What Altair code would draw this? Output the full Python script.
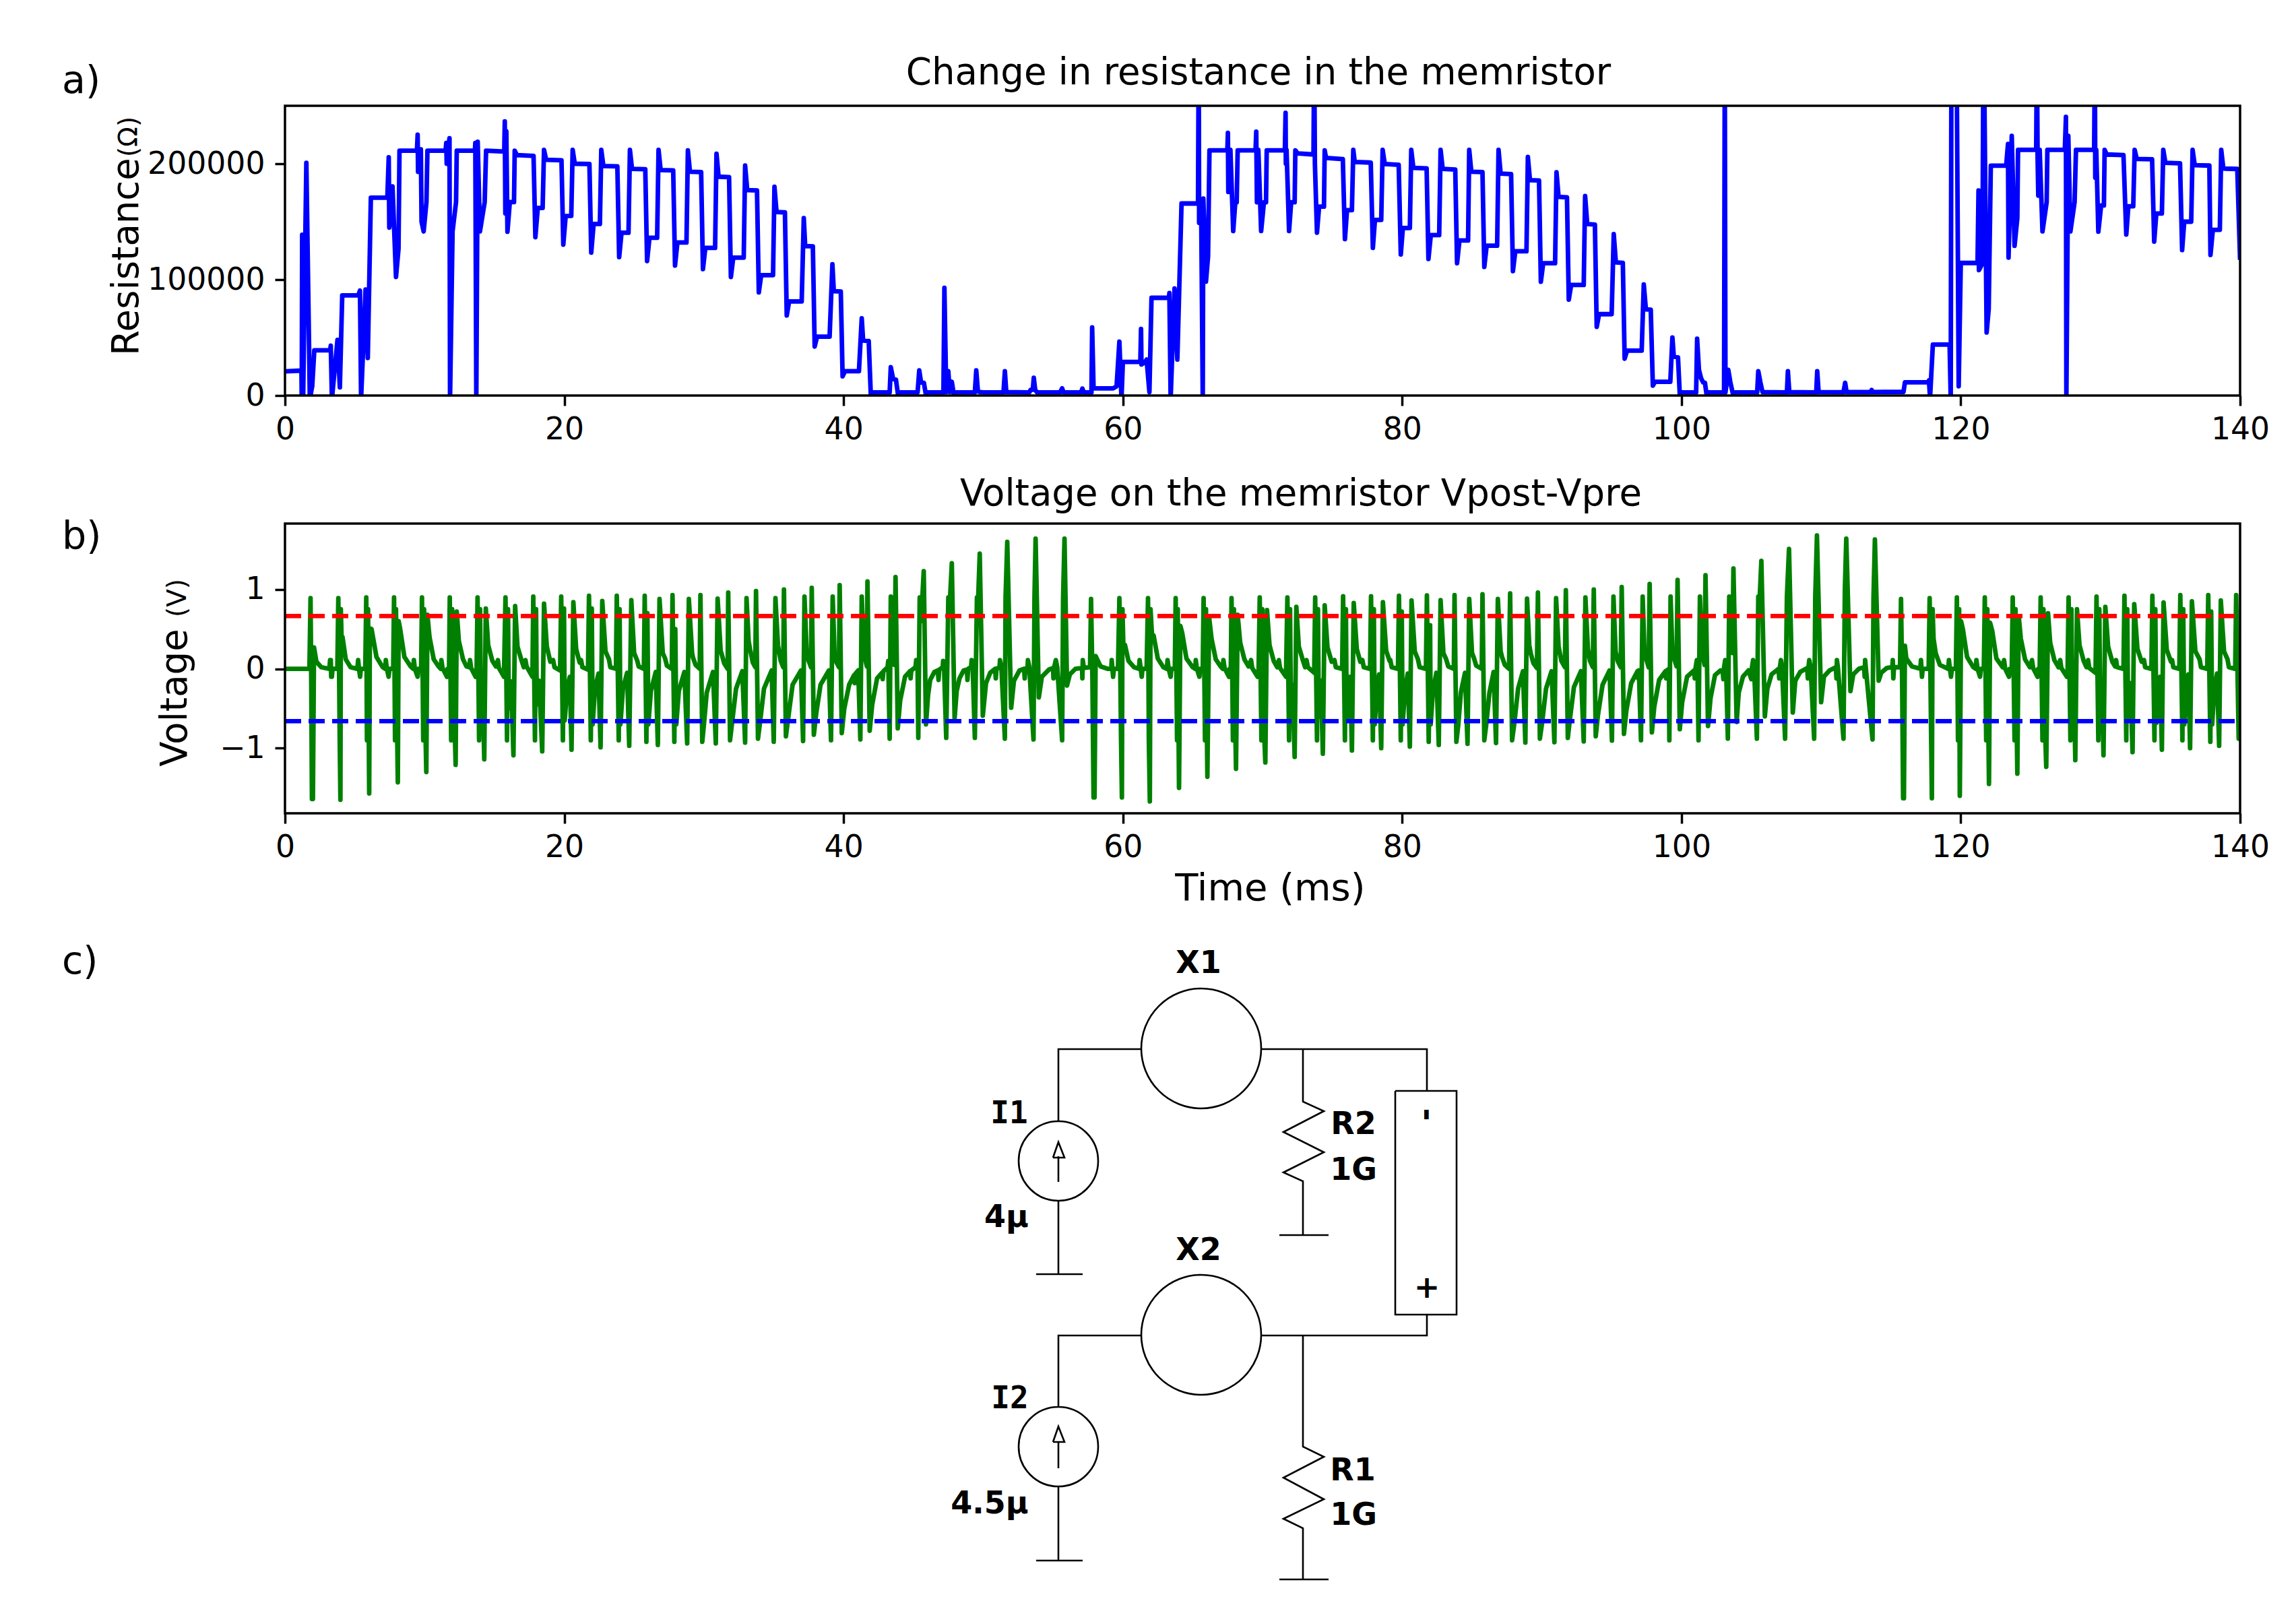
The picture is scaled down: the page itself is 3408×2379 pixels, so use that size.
import altair as alt
import pandas as pd

FONT = "DejaVu Sans"
W, H = 2902, 430
X_TICKS = list(range(0, 141, 20))
R_TICKS = [0, 100000, 200000]
V_TICKS = [-1, 0, 1]
V_UP = 0.665
V_DOWN = -0.66

RES_1 = [(0,20900),(1.18,21500),(1.2,-3000),(1.23,138700),(1.3,-3000),(1.53,200800),(1.78,-3000),(1.95,8000),(2.1,39000),(3.23,39000),(3.28,43000),(3.36,-3000),(3.76,48000),(3.93,7100),(4.1,86400),(5.25,86400),(5.37,90600),(5.45,-3000),(5.77,91500),(5.93,32400),(6.15,170700),(7.33,170700),(7.43,205600),(7.47,144900),(7.7,180400),(7.95,102300),(8.13,126700),(8.2,211300),(9.45,211300),(9.5,225000),(9.53,193000),(9.73,212400),(9.78,150000),(9.93,141600),(10.13,166900),(10.2,211300),(11.5,211300),(11.55,218000),(11.58,200000),(11.78,222000),(11.82,-3000),(12.0,141600),(12.25,166900),(12.3,211300),(13.6,211300),(13.63,218000),(13.7,-3000),(13.8,219000),(13.96,141600),(14.3,166900),(14.4,211300),(15.7,210500)]
RES_2 = [(15.74,236600),(15.78,157200),(15.85,228000),(15.93,141300),(16.1,166900),(16.4,166900),(16.45,211300),(16.6,207500),(17.8,206800),(17.93,136600),(18.1,161800),(18.45,161800),(18.55,212000),(18.7,203400),(19.8,203000),(19.93,130200),(20.1,154900),(20.5,155000),(20.6,212000),(20.75,200000),(21.8,199800),(21.93,123300),(22.1,148000),(22.55,148000),(22.65,212000),(22.8,198000),(23.8,197700),(23.93,119400),(24.1,140500),(24.6,140500),(24.7,212000),(24.85,195600),(25.8,195300),(25.93,116000),(26.1,136100),(26.65,136100),(26.75,212000),(26.9,194500),(27.8,194200),(27.93,112100),(28.1,132000),(28.75,132000),(28.85,211500),(29,193100),(29.8,192800),(29.93,109100),(30.1,127400),(30.8,127400),(30.9,208700),(31.05,188800),(31.8,188500),(31.93,102300),(32.1,119000),(32.85,119000),(32.95,198400),(33.1,177300),(33.8,177000),(33.93,89000),(34.1,103900),(34.95,103900),(35.05,180100),(35.2,158300),(35.8,158000),(35.93,69100),(36.1,81200),(37,81200),(37.15,153100),(37.25,129000),(37.8,128700),(37.93,42300),(38.1,50800),(39,50800),(39.2,113300),(39.3,90100),(39.8,89800),(39.93,16500),(40.1,21000),(41.1,21000),(41.3,66600),(41.4,47400),(41.8,47000)]
RES_3 = [(41.95,500),(42.1,2700),(43.3,2700),(43.38,24500),(43.55,14200),(43.75,13800),(43.9,500),(44.05,2700),(45.3,2700),(45.42,21700),(45.55,11200),(45.75,11000),(45.9,400),(46.05,2700),(47.15,2700),(47.22,93000),(47.35,3000),(47.5,21000),(47.6,3000),(47.75,11900),(47.9,300),(48,2700),(49.4,2700),(49.5,21700),(49.62,3500),(49.8,3000),(50,2700),(51.45,2700),(51.55,21000),(51.65,3000),(53.3,2700),(53.4,5000),(53.55,5000),(53.62,15300),(53.72,5000),(53.85,2700),(55.5,2700),(55.65,6200),(55.75,2700),(57.0,2700),(57.1,6000),(57.2,2700),(57.75,2700),(57.8,58800),(57.9,6200),(59.3,6200),(59.55,8000),(59.75,46500),(59.9,-3000)]
RES_4 = [(60.0,29000),(61.25,29000),(61.3,57500),(61.33,26800),(61.6,29000),(61.7,31000),(61.9,2900),(62.05,84300),(63.3,84300),(63.33,88400),(63.42,-3000),(63.7,92400),(63.9,31000),(64.2,165700),(65.38,165700),(65.43,300000),(65.46,149000),(65.6,169000),(65.72,-3000),(65.76,170000),(65.95,98300),(66.1,120000),(66.2,211600),(67.48,211600),(67.52,226700),(67.55,175600),(67.7,212000),(67.9,141900),(68.05,166800),(68.15,166800),(68.22,211600),(69.5,211600),(69.55,227700),(69.6,166800),(69.7,212000),(69.9,141900),(70.1,166800),(70.25,166800),(70.3,211600),(71.6,211600),(71.65,244000),(71.67,200000),(71.72,212000),(71.9,141900),(72.05,166800),(72.3,166800),(72.35,211600),(72.5,209000),(73.65,208000),(73.7,300000),(73.75,200000),(73.9,140500),(74.05,163000),(74.4,163000),(74.45,211600),(74.55,205000),(75.75,204000),(75.9,134900),(76.05,160000),(76.4,160000),(76.5,212000),(76.6,201500),(77.75,201000),(77.9,127400),(78.05,151500),(78.5,151500),(78.6,212000),(78.75,199800),(79.75,199000),(79.9,121700),(80.05,144600),(80.55,144600),(80.65,212000),(80.8,196400),(81.75,196000),(81.88,117800),(82.05,138400),(82.65,138400),(82.75,212000),(82.9,195600),(83.8,195000)]
RES_5 = [(83.93,114200),(84.1,133800),(84.72,133800),(84.8,212000),(84.95,193100),(85.75,192800),(85.88,111000),(86.05,129300),(86.8,129300),(86.9,212000),(87.05,191500),(87.8,191000),(87.93,107300),(88.1,124500),(88.9,124500),(89,205900),(89.15,185800),(89.8,185500),(89.93,98200),(90.1,114200),(90.95,114200),(91.05,192600),(91.2,171400),(91.8,171000),(91.93,82800),(92.1,95400),(93.0,95400),(93.1,172100),(93.25,148000),(93.8,147500),(93.93,59300),(94.1,70200),(95.0,70200),(95.15,139300),(95.3,114900),(95.8,114500),(95.93,31800),(96.1,38700),(97.15,38700),(97.3,95900),(97.45,74400),(97.8,74000),(97.95,8500),(98.1,11900),(99.2,11900),(99.35,50100),(99.45,33600),(99.75,33000),(99.88,500),(100,2700),(101.05,2700),(101.12,49000),(101.25,22200),(101.4,15000),(101.55,11400),(101.68,11000),(101.8,500),(101.95,2700),(103.05,2700),(103.1,300000),(103.15,2700),(103.35,22200),(103.5,11400),(103.7,500),(103.85,2700),(105.42,2700),(105.5,21000),(105.65,11400),(105.8,3000),(107.55,2700),(107.62,21000),(107.72,3000),(109.65,2700),(109.72,21000),(109.82,3000),(111.6,2800),(111.72,11000),(111.82,3000),(113.55,3000),(113.62,4800),(113.7,3000),(115.9,3200),(116,11400),(117.65,11400),(117.72,13000),(117.8,-2000)]
RES_6 = [(118,44000),(119.2,44000),(119.28,-3000),(119.33,300000),(119.7,300000),(119.85,8000),(120,114400),(121.2,114400),(121.27,177000),(121.3,108200),(121.55,114000),(121.62,300000),(121.66,300000),(121.85,54400),(122,74700),(122.15,198300),(123.25,198300),(123.38,217000),(123.42,119000),(123.65,224000),(123.85,129100),(124.05,153300),(124.1,212000),(125.4,212000),(125.45,300000),(125.5,206000),(125.55,172500),(125.65,212000),(125.85,141600),(126.15,166800),(126.2,212000),(127.45,212000),(127.53,240500),(127.56,-3000),(127.7,224000),(127.85,141600),(128.15,166800),(128.25,212000),(129.55,212000),(129.6,300000),(129.63,188000),(129.7,212000),(129.85,141300),(130.05,164000),(130.25,164000),(130.3,212000),(130.45,208000),(131.65,207500),(131.85,138900),(132.0,163300),(132.35,163300),(132.45,212000),(132.6,204200),(133.7,203800),(133.85,132800),(134,157000),(134.4,157000),(134.5,212000),(134.65,200800),(135.7,200400),(135.85,125500),(136,150000),(136.5,150000),(136.6,212000),(136.75,198800),(137.8,198400),(137.88,121300),(138.05,143000),(138.55,143000),(138.65,212000),(138.8,195800),(139.8,195500),(140,117000)]

VOLT_1 = [(0,0),(1.75,0),(1.83,.89),(1.88,-.13),(1.93,-1.64),(2.0,-1.64),(2.08,.27),(2.25,.09),(2.6,.02),(3.18,0),(3.23,.11),(3.28,.11),(3.31,-.1),(3.36,-.1),(3.4,0),(3.75,0),
(3.82,.89),(3.88,-.13),(3.92,-.9),(3.97,-1.65),(4.0,.75),(4.05,.4),(4.12,.4),(4.35,.12),(4.7,.02),(5.18,0),(5.24,.11),(5.3,0),(5.38,-.1),(5.43,0),(5.75,0),
(5.82,.9),(5.87,-.9),(5.95,.75),(5.98,-.3),(6.03,-1.57),(6.08,.51),(6.2,.5),(6.55,.15),(7.0,.02),(7.18,0),(7.22,.11),(7.3,0),(7.42,-.1),(7.48,0),(7.75,0),
(7.81,.9),(7.88,-.9),(7.95,.75),(8.0,-.4),(8.08,-1.43),(8.14,.6),(8.25,.5),(8.55,.15),(9.0,.03),(9.18,0),(9.23,.11),(9.3,0),(9.5,-.1),(9.55,0),(9.75,0),
(9.81,.9),(9.9,-.9),(9.96,.75),(10.02,-.45),(10.12,-1.3),(10.2,.68),(10.35,.4),(10.65,.12),(11.0,.03),(11.15,0),(11.2,.11),(11.28,.01),(11.6,-.1),(11.65,0),(11.75,0),
(11.8,.9),(11.9,-.9),(11.97,.75),(12.03,-.4),(12.1,-.36),(12.22,-1.21),(12.3,.72),(12.45,.35),(12.75,.12),(13.0,.03),(13.2,.02),(13.25,.11),(13.33,.01),(13.65,-.1),(13.72,-.05),
(13.79,.9),(13.9,-.9),(13.97,.75),(14.03,-.5),(14.15,-.2),(14.27,-1.14),(14.38,.76),(14.55,.3),(14.85,.1),(15.1,.03),(15.25,.11),(15.32,.01),(15.68,-.1),
(15.79,.9),(15.9,-.9),(15.97,.75),(16.03,-.5),(16.2,-.16),(16.36,-1.09),(16.48,.79),(16.65,.28),(16.95,.1),(17.1,.02),(17.22,.11),(17.3,.03),(17.72,-.1),
(17.78,.91),(17.9,-.9),(17.98,.75),(18.03,-.45),(18.2,-.15),(18.42,-1.04),(18.55,.82),(18.75,.28),(19.0,.09),(19.2,.11),(19.3,.02),(19.7,-.02)]
VOLT_2 = [(19.78,.91),(19.9,-.9),(19.98,.76),(20.03,-.65),(20.2,-.25),(20.4,-.1),(20.52,-1.02),(20.65,.84),(20.85,.25),(21.1,.08),(21.2,.11),(21.3,.02),(21.7,-.01),
(21.77,.92),(21.9,-.9),(21.97,.76),(22.03,-.7),(22.2,-.25),(22.45,-.06),(22.6,-.99),(22.72,.855),(22.95,.22),(23.2,.12),(23.3,.02),(23.7,0),
(23.76,.92),(23.9,-.9),(23.96,.75),(24.02,-.7),(24.2,-.25),(24.5,-.05),(24.65,-.97),(24.8,.865),(25.0,.2),(25.23,.1),(25.33,.03),(25.7,0),
(25.76,.92),(25.88,-.92),(25.95,.7),(26.02,-.7),(26.2,-.28),(26.55,-.04),(26.7,-.96),(26.82,.88),(27.05,.2),(27.22,.13),(27.35,.04),(27.7,0),
(27.75,.93),(27.88,-.92),(27.95,.5),(28.02,-.7),(28.2,-.28),(28.6,-.04),(28.8,-.94),(28.92,.88),(29.15,.2),(29.22,.14),(29.4,.05),(29.7,0),
(29.75,.93),(29.88,-.92),(30.0,-.7),(30.2,-.3),(30.65,-.04),(30.85,-.94),(30.98,.885),(31.2,.22),(31.25,.2),(31.45,.07),(31.7,0),
(31.74,.96),(31.87,-.9),(32.0,-.7),(32.3,-.25),(32.75,-.03),(32.95,-.93),(33.05,.89),(33.2,.35),(33.3,.25),(33.5,.08),(33.68,.02),
(33.73,.98),(33.87,-.88),(34.0,-.7),(34.3,-.25),(34.85,-.02),(35.0,-.92),(35.12,.89),(35.3,.3),(35.5,.1),(35.68,.02),
(35.73,1.0),(35.87,-.85),(36.05,-.6),(36.35,-.2),(36.95,-.02),(37.1,-.91),(37.2,.91),(37.35,.25),(37.5,.1),(37.67,.02),
(37.72,1.02),(37.87,-.83),(38.05,-.55),(38.35,-.2),(38.95,-.02),(39.1,-.9),(39.22,.91),(39.35,.2),(39.5,.08),(39.67,.02)]
VOLT_3 = [(39.72,1.055),(39.87,-.81),(40.05,-.5),(40.4,-.2),(40.75,-.08),(40.8,-.18),(40.85,-.06),(41.05,-.02),(41.2,-.89),(41.3,.91),(41.45,.2),(41.67,.03),
(41.71,1.1),(41.87,-.78),(42.05,-.45),(42.4,-.12),(42.75,-.05),(42.8,-.13),(42.85,-.03),(43.15,.02),(43.2,.1),(43.3,-.88),(43.38,.91),(43.5,.2),(43.65,.05),
(43.72,1.155),(43.88,-.75),(44.05,-.4),(44.4,-.1),(44.75,-.03),(44.8,-.12),(44.85,-.02),(45.15,.02),(45.2,.11),(45.3,0),(45.35,-.87),(45.45,.9),(45.55,.6),
(45.74,1.23),(45.9,-.7),(46.05,-.33),(46.2,-.14),(46.5,-.04),(46.75,-.02),(46.8,-.14),(46.85,-.01),(47.1,.02),(47.13,.1),(47.2,0),(47.35,-.87),(47.5,.9),(47.57,.7),
(47.75,1.33),(47.95,-.62),(48.1,-.28),(48.3,-.12),(48.6,-.02),(48.83,-.01),(48.87,-.14),(48.92,0),(49.13,.02),(49.17,.11),(49.25,0),(49.4,-.87),(49.55,.9),(49.6,.7),
(49.75,1.45),(49.97,-.59),(50.2,-.18),(50.5,-.05),(50.85,0),(50.9,-.12),(50.95,0),(51.17,.02),(51.2,.11),(51.3,.02),(51.55,-.88),(51.6,.9),
(51.72,1.6),(52.0,-.49),(52.2,-.15),(52.6,-.02),(52.93,0),(52.97,-.12),(53.02,0),(53.17,.01),(53.2,.11),(53.3,.02),(53.6,-.89),(53.67,.9),
(53.75,1.64),(53.98,-.36),(54.2,-.1),(54.7,-.01),(55.0,.01),(55.03,-.12),(55.08,.02),(55.2,.11),(55.3,.02),(55.65,-.9),(55.72,.9),
(55.82,1.64),(56.0,-.21),(56.2,-.07),(56.6,0),(57.08,.01),(57.1,-.12),(57.13,.11),(57.2,.01),(57.65,.02)]
VOLT_4 = [(57.72,.88),(57.82,-.13),(57.9,-1.62),(57.97,-1.62),(58.05,.16),(58.4,.03),(58.9,0),(59.17,0),(59.2,.11),(59.3,-.1),(59.36,0),(59.65,0),
(59.75,.89),(59.82,-.13),(59.87,-.9),(59.93,-1.62),(59.97,.75),(60.03,.32),(60.15,.3),(60.4,.1),(60.8,.02),(61.15,0),(61.2,.11),(61.28,0),(61.35,-.1),(61.4,0),(61.7,0),
(61.8,.89),(61.86,-.9),(61.93,-1.67),(61.98,.75),(62.08,.44),(62.2,.42),(62.5,.13),(62.9,.02),(63.15,0),(63.2,.11),(63.28,0),(63.42,-.1),(63.47,0),(63.72,0),
(63.78,.89),(63.88,-.9),(63.93,.75),(63.97,-.4),(64.02,-1.5),(64.12,.54),(64.25,.45),(64.55,.13),(65,.02),(65.18,0),(65.22,.11),(65.3,0),(65.48,-.1),(65.53,0),(65.72,0),
(65.78,.89),(65.88,-.9),(65.95,.75),(66.0,-.45),(66.05,-1.36),(66.18,.64),(66.35,.38),(66.65,.12),(67.0,.03),(67.15,0),(67.2,.11),(67.28,.01),(67.6,-.1),(67.65,0),(67.73,0),
(67.78,.89),(67.88,-.9),(67.95,.75),(68.02,-.42),(68.1,-1.26),(68.22,.68),(68.4,.33),(68.7,.12),(69.0,.03),(69.18,.11),(69.26,.01),(69.65,-.1),(69.72,0),
(69.8,.9),(69.92,-.9),(69.98,.75),(70.04,-.45),(70.2,-1.18),(70.32,.74),(70.5,.3),(70.8,.1),(71.05,.02),(71.17,.11),(71.25,.01),(71.68,-.1),
(71.78,.9),(71.9,-.9),(71.97,.75),(72.03,-.5),(72.15,-.2),(72.3,-1.11),(72.42,.78),(72.6,.28),(72.9,.1),(73.05,.02),(73.15,.11),(73.25,.02),(73.7,-.05),
(73.77,.9),(73.9,-.9),(73.97,.75),(74.03,-.6),(74.18,-.15),(74.32,-1.07),(74.45,.8),(74.65,.27),(74.95,.09),(75.15,.11),(75.25,.02),(75.7,0)]
VOLT_5 = [(75.77,.915),(75.9,-.9),(75.97,.75),(76.03,-.65),(76.2,-.22),(76.28,-.1),(76.4,-1.03),(76.53,.83),(76.75,.25),(77.0,.09),(77.15,.11),(77.25,.02),(77.7,0),
(77.77,.915),(77.9,-.9),(77.97,.75),(78.03,-.7),(78.2,-.25),(78.35,-.07),(78.5,-1.0),(78.62,.84),(78.85,.23),(79.1,.1),(79.15,.11),(79.25,.02),(79.7,0),
(79.77,.92),(79.9,-.9),(79.97,.72),(80.03,-.7),(80.2,-.27),(80.4,-.06),(80.55,-.98),(80.67,.86),(80.9,.22),(81.13,.12),(81.25,.02),(81.7,0),
(81.77,.925),(81.9,-.92),(82.0,.55),(82.04,-.7),(82.2,-.28),(82.45,-.05),(82.62,-.96),(82.75,.865),(82.95,.2),(83.15,.12),(83.3,.03),(83.7,0),
(83.75,.93),(83.88,-.92),(84.02,-.7),(84.2,-.3),(84.5,-.05),(84.68,-.945),(84.8,.88),(85.0,.2),(85.15,.13),(85.3,.04),(85.7,0),
(85.75,.94),(85.88,-.9),(86.02,-.7),(86.25,-.3),(86.55,-.04),(86.72,-.935),(86.85,.88),(87.05,.22),(87.15,.15),(87.35,.05),(87.65,0),
(87.73,.95),(87.87,-.9),(88.02,-.7),(88.3,-.25),(88.65,-.03),(88.82,-.93),(88.94,.885),(89.1,.3),(89.2,.2),(89.4,.07),(89.65,.01),
(89.72,.96),(89.86,-.88),(90.02,-.68),(90.3,-.25),(90.7,-.03),(90.9,-.925),(91.02,.89),(91.2,.28),(91.4,.1),(91.65,.02),
(91.72,.99),(91.86,-.87),(92.02,-.62),(92.3,-.23),(92.8,-.03),(93.0,-.915),(93.12,.9),(93.3,.25),(93.45,.1),(93.65,.02),
(93.72,1.0),(93.86,-.85),(94.02,-.58),(94.35,-.2),(94.85,-.02),(95.02,-.905),(95.13,.91),(95.28,.22),(95.45,.09),(95.65,.02)]
VOLT_6 = [(95.72,1.03),(95.88,-.82),(96.05,-.53),(96.4,-.18),(96.85,-.03),(96.9,-.12),(96.95,-.02),(97.1,-.9),(97.22,.91),(97.35,.2),(97.65,.02),
(97.72,1.07),(97.88,-.8),(98.05,-.48),(98.4,-.14),(98.85,-.03),(98.9,-.12),(98.95,-.02),(99.1,0),(99.13,-.9),(99.22,.91),(99.35,.2),(99.65,.03),
(99.72,1.12),(99.88,-.76),(100.05,-.42),(100.4,-.1),(100.9,-.02),(100.95,-.12),(101.0,0),(101.1,.11),(101.15,0),(101.22,-.9),(101.32,.91),(101.45,.25),(101.65,.05),
(101.72,1.18),(101.9,-.72),(102.08,-.37),(102.4,-.08),(102.8,-.02),(102.95,-.03),(103.0,-.13),(103.05,.02),(103.13,.11),(103.2,0),(103.32,-.88),(103.42,.91),(103.5,.6),(103.65,.2),
(103.72,1.265),(103.95,-.67),(104.1,-.3),(104.4,-.1),(104.8,-.02),(105.0,-.13),(105.05,.02),(105.13,.11),(105.2,.01),(105.4,-.88),(105.5,.91),(105.55,.7),
(105.72,1.36),(105.97,-.6),(106.15,-.25),(106.45,-.07),(106.95,0),(107.0,-.12),(107.05,.02),(107.12,.11),(107.2,.02),(107.42,-.88),(107.55,.91),
(107.7,1.51),(107.97,-.55),(108.15,-.15),(108.5,-.04),(109.0,.01),(109.05,-.12),(109.1,.03),(109.15,.11),(109.25,.02),(109.5,-.88),(109.58,.91),
(109.7,1.68),(110,-.42),(110.2,-.1),(110.6,-.02),(111.05,.02),(111.1,-.12),(111.13,.11),(111.2,.02),(111.6,-.88),(111.7,1.0),
(111.8,1.64),(112.1,-.28),(112.3,-.07),(112.7,0),(113.08,.02),(113.12,-.1),(113.15,.11),(113.2,.01),(113.68,-.89),(113.75,.9),
(113.85,1.63),(114.12,-.15),(114.3,-.05),(114.7,.01),(115.1,.02),(115.13,.11),(115.17,-.12),(115.22,.02),(115.65,.02)]
VOLT_7 = [(115.72,.88),(115.8,-.13),(115.87,-1.63),(115.93,-1.63),(116.0,.29),(116.1,.13),(116.5,.03),(117.1,0),(117.15,.11),(117.22,-.1),(117.27,0),(117.7,0),
(117.77,.89),(117.83,-.13),(117.88,-.9),(117.93,-1.63),(117.98,.75),(118.05,.38),(118.2,.2),(118.5,.05),(119.1,0),(119.15,.11),(119.22,0),(119.3,-.1),(119.36,0),(119.65,0),
(119.72,.9),(119.8,-.9),(119.88,.75),(119.93,-1.6),(120.02,.6),(120.15,.5),(120.45,.15),(120.9,.02),(121.08,0),(121.12,.11),(121.2,0),(121.38,-.1),(121.44,0),(121.65,0),
(121.72,.9),(121.82,-.9),(121.9,.75),(121.95,-.4),(122.02,-1.45),(122.1,.58),(122.25,.48),(122.55,.13),(123.0,.02),(123.1,.11),(123.18,0),(123.45,-.1),(123.5,0),(123.65,0),
(123.72,.9),(123.85,-.9),(123.92,.75),(123.98,-.4),(124.05,-1.32),(124.15,.66),(124.3,.38),(124.6,.12),(124.95,.02),(125.1,.11),(125.18,.01),(125.5,-.1),(125.55,0),(125.65,0),
(125.72,.9),(125.85,-.9),(125.92,.75),(125.98,-.45),(126.12,-1.235),(126.25,.7),(126.4,.33),(126.7,.11),(127.0,.02),(127.12,.11),(127.2,.01),(127.6,-.1),(127.65,0),
(127.72,.9),(127.85,-.9),(127.92,.75),(127.98,-.5),(128.1,-.18),(128.2,-1.15),(128.32,.75),(128.5,.3),(128.8,.1),(129.0,.02),(129.12,.11),(129.2,.01),(129.65,-.05),
(129.72,.91),(129.85,-.9),(129.92,.75),(129.98,-.55),(130.1,-.16),(130.22,-1.09),(130.35,.78),(130.55,.28),(130.85,.09),(131.05,.03),(131.12,.11),(131.2,.02),(131.65,0),
(131.72,.92),(131.85,-.9),(131.92,.75),(131.98,-.62),(132.15,-.18),(132.3,-1.05),(132.42,.815),(132.65,.25),(132.95,.09),(133.12,.11),(133.2,.02),(133.65,0),
(133.72,.92),(133.87,-.9),(133.93,.75),(134.0,-.68),(134.15,-.22),(134.28,-.1),(134.4,-1.02),(134.52,.835),(134.75,.24),(135.05,.09),(135.13,.11),(135.22,.02),(135.65,0),
(135.72,.93),(135.87,-.9),(135.93,.75),(136.0,-.7),(136.15,-.25),(136.3,-.07),(136.42,-1.0),(136.55,.85),(136.8,.22),(137.1,.12),(137.2,.02),(137.65,0),
(137.72,.93),(137.87,-.92),(137.93,.72),(138.0,-.7),(138.15,-.27),(138.35,-.06),(138.5,-.97),(138.62,.86),(138.85,.22),(139.1,.12),(139.2,.02),(139.65,0),
(139.72,.93),(139.9,-.88),(140,-.6)]

# circuit schematic, read in picture pixels
WIRES = [
    [(1571,1658),(1571,1552),(1693,1552)],
    [(1571,1778),(1571,1886)],
    [(1538,1886),(1607,1886)],
    [(1873,1552),(2118,1552),(2118,1614)],
    [(2071,1614),(2162,1614),(2162,1946),(2071,1946),(2071,1614)],
    [(2118,1946),(2118,1977),(1873,1977)],
    [(1934,1552),(1934,1630),(1965,1644),(1905,1675),(1965,1705),(1905,1735),(1934,1748),(1934,1828)],
    [(1899,1828),(1972,1828)],
    [(1571,2083),(1571,1977),(1693,1977)],
    [(1571,2202),(1571,2311)],
    [(1538,2311),(1607,2311)],
    [(1934,1977),(1934,2142),(1965,2157),(1905,2188),(1965,2220),(1905,2249),(1934,2263),(1934,2339)],
    [(1899,2339),(1972,2339)],
    [(1571,1749),(1571,1711)],
    [(1563,1713),(1571,1690),(1580,1713),(1563,1713)],
    [(1571,2174),(1571,2136)],
    [(1563,2135),(1571,2112),(1580,2135),(1563,2135)],
]
BIG_SOURCES = [(1783,1551),(1783,1976)]
SMALL_SOURCES = [(1571,1718),(1571,2142)]
LABELS = [("X1",1779,1425),("X2",1779,1851),("4µ",1494,1802),("4.5µ",1469,2227),
          ("R2",2009,1664),("1G",2009,1732),("R1",2008,2178),("1G",2009,2244)]
SOURCE_NAMES = [("I1",1498,1648),("I2",1499,2071)]
POLES = [("+",2118,1907)]
MINUS = [("-",2118,1649)]

C_TOP, C_H = 1392, 960
C_LEFT = 423


def frame():
    return alt.Chart(pd.DataFrame({"a": [0]})).mark_rect(
        fillOpacity=0, stroke="black", strokeWidth=3.5
    ).encode(x=alt.value(0), x2=alt.value(W), y=alt.value(0), y2=alt.value(H))


def note(text, x, y, size, angle=0, align="left"):
    return alt.Chart(pd.DataFrame({"t": [text]})).mark_text(
        font=FONT, fontSize=size, angle=angle, align=align, baseline="alphabetic", color="black"
    ).encode(x=alt.value(x), y=alt.value(y), text="t:N")


def xaxis(title=None, **kw):
    return alt.Axis(values=X_TICKS, format="d", grid=False, domain=False, tickSize=15, tickWidth=3.5,
                    tickColor="black", labelColor="black", labelFont=FONT, labelFontSize=45.7, labelPadding=13,
                    labelFlush=False, labelOverlap=False, labelBound=False, title=title, **kw)


def yaxis(values, title, tx, ty, fmt):
    return alt.Axis(values=values, format=fmt, grid=False, domain=False, tickSize=15, tickWidth=3.5,
                    tickColor="black", labelColor="black", labelFont=FONT, labelFontSize=45.7, labelPadding=15,
                    labelOverlap=False, labelBound=False, title=title, titleFont=FONT, titleFontSize=54.5,
                    titleFontWeight="normal", titleColor="black", titleAngle=270, titleAlign="center",
                    titleBaseline="alphabetic", titleX=tx, titleY=ty)


def series(rows, name):
    return pd.DataFrame({"t": [p[0] for p in rows], name: [p[1] for p in rows], "i": range(len(rows))})


res_rows = RES_1 + RES_2 + RES_3 + RES_4 + RES_5 + RES_6
volt_rows = VOLT_1 + VOLT_2 + VOLT_3 + VOLT_4 + VOLT_5 + VOLT_6 + VOLT_7

x_scale = alt.Scale(domain=[0, 140], nice=False, zero=False)
r_scale = alt.Scale(domain=[0, 250000], nice=False, zero=False)
v_scale = alt.Scale(domain=[-1.82, 1.83], nice=False, zero=False)

res_line = alt.Chart(series(res_rows, "r")).mark_line(
    color="#0000ff", strokeWidth=6.8, clip=True, strokeJoin="round"
).encode(
    x=alt.X("t:Q", scale=x_scale, axis=xaxis()),
    y=alt.Y("r:Q", scale=r_scale, axis=yaxis(R_TICKS, "Resistance", -219, 223.5, "d")),
    order="i:Q",
)
panel_a = alt.layer(
    res_line, frame(),
    note("(Ω)", -219, 46, 39, angle=270, align="center"),
    note("a)", -331, -19, 57),
).properties(
    width=W, height=H,
    title=alt.TitleParams("Change in resistance in the memristor", font=FONT, fontSize=54.5, fontWeight="normal",
                          anchor="middle", color="black", dx=-6, dy=119, offset=32, baseline="alphabetic"),
)

volt_line = alt.Chart(series(volt_rows, "v")).mark_line(
    color="#008000", strokeWidth=6.8, clip=True, strokeJoin="round"
).encode(
    x=alt.X("t:Q", scale=x_scale, axis=xaxis("Time (ms)", titleFont=FONT, titleFontSize=56, titleFontWeight="normal",
                                              titleColor="black", titleX=1462, titleY=128, titleAlign="center",
                                              titleBaseline="alphabetic")),
    y=alt.Y("v:Q", scale=v_scale, axis=yaxis(V_TICKS, "Voltage", -147, 258, "d")),
    order="i:Q",
)


def level(value, colour):
    df = pd.DataFrame({"t": [0, 140], "v": [value, value]})
    return alt.Chart(df).mark_line(color=colour, strokeWidth=6.5, strokeDash=[24, 11]).encode(
        x=alt.X("t:Q", scale=x_scale), y=alt.Y("v:Q", scale=v_scale)
    )


panel_b = alt.layer(
    volt_line, level(V_UP, "#ff0000"), level(V_DOWN, "#0000ff"), frame(),
    note("(V)", -147, 110.5, 39, angle=270, align="center"),
    note("b)", -331, 37, 57),
).properties(
    width=W, height=H,
    title=alt.TitleParams("Voltage on the memristor Vpost-Vpre", font=FONT, fontSize=54.5, fontWeight="normal",
                          anchor="middle", color="black", dx=57, dy=68, offset=32, baseline="alphabetic"),
)

cx = alt.Scale(domain=[C_LEFT, C_LEFT + W], nice=False, zero=False)
cy = alt.Scale(domain=[C_TOP + C_H, C_TOP], nice=False, zero=False)

wire_df = pd.DataFrame(
    [{"w": n, "i": i, "x": p[0], "y": p[1]} for n, wire in enumerate(WIRES) for i, p in enumerate(wire)]
)
wires = alt.Chart(wire_df).mark_line(color="black", strokeWidth=2.6).encode(
    x=alt.X("x:Q", scale=cx, axis=None), y=alt.Y("y:Q", scale=cy, axis=None), detail="w:N", order="i:Q"
)


def rings(points, diameter):
    df = pd.DataFrame({"x": [p[0] for p in points], "y": [p[1] for p in points]})
    return alt.Chart(df).mark_point(
        shape="circle", filled=False, color="black", strokeWidth=2.6, size=diameter ** 2, opacity=1
    ).encode(x=alt.X("x:Q", scale=cx, axis=None), y=alt.Y("y:Q", scale=cy, axis=None))


def words(items, size, angle=0, font=FONT):
    df = pd.DataFrame({"t": [p[0] for p in items], "x": [p[1] for p in items], "y": [p[2] for p in items]})
    return alt.Chart(df).mark_text(
        font=font, fontWeight="bold", fontSize=size, angle=angle, align="center", baseline="middle", color="black"
    ).encode(x=alt.X("x:Q", scale=cx, axis=None), y=alt.Y("y:Q", scale=cy, axis=None), text="t:N")


panel_c = alt.layer(
    wires, rings(BIG_SOURCES, 178), rings(SMALL_SOURCES, 118),
    words(LABELS, 46), words(SOURCE_NAMES, 46, font="DejaVu Sans Mono"), words(POLES, 46), words(MINUS, 46, angle=90),
    note("c)", -331, 48, 57),
).properties(width=W, height=C_H)

chart = alt.vconcat(panel_a, panel_b, panel_c, spacing=190, bounds="flush").properties(
    padding={"left": 84, "top": 72, "right": 5, "bottom": 5}
).configure_view(stroke=None)

chart.save("out.html", embed_options={"renderer": "svg", "actions": False})
